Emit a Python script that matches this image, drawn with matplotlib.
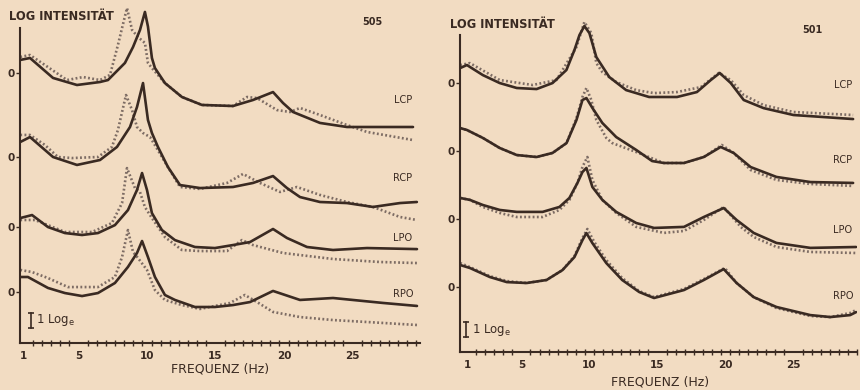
import matplotlib
matplotlib.use('Agg')
import matplotlib.pyplot as plt
import numpy as np

# ----------------------------------------------------------------------
# Daten (Log-Intensität relativ zur jeweiligen Nulllinie, 1 Einheit = 1 Log_e)
# ----------------------------------------------------------------------
CHANNELS = ["LCP", "RCP", "LPO", "RPO"]
TICK_HZ = [1, 5, 10, 15, 20, 25]

# --- Proband 505 ---
F505_LCP_S = [0.75, 1.46, 3.14, 4.89, 6.57, 7.15, 8.39, 8.98, 9.49, 9.85, 10.07, 10.36, 10.58, 11.31,
              12.55, 14.01, 16.28, 17.74, 19.2, 19.93, 20.66, 22.63, 24.6, 29.42]
Y505_LCP_S = [0.87, 1.0, -0.33, -0.8, -0.6, -0.47, 0.67, 1.73, 2.87, 4.07, 3.1, 1.0, 0.33, -0.67,
              -1.6, -2.13, -2.2, -1.8, -1.27, -2.0, -2.6, -3.33, -3.6, -3.6]
F505_LCP_D = [0.75, 1.46, 2.55, 4.16, 5.33, 6.57, 7.3, 7.88, 8.18, 8.54, 8.91, 9.34, 9.85, 10.07,
              10.36, 11.31, 12.55, 14.01, 16.28, 17.3, 18.03, 19.49, 20.44, 21.17, 22.63, 24.6, 26.06, 29.42]
Y505_LCP_D = [1.07, 1.2, 0.53, -0.47, -0.27, -0.47, -0.13, 1.87, 3.0, 4.33, 2.87, 2.4, 2.0, 0.67,
              0.33, -0.67, -1.6, -2.13, -2.2, -1.6, -1.67, -2.47, -2.6, -2.33, -2.8, -3.47, -3.93, -4.47]

F505_RCP_S = [0.75, 1.46, 3.14, 4.89, 6.57, 7.81, 8.76, 9.27, 9.71, 10.07, 10.36, 10.8, 11.53, 12.41,
              13.87, 16.28, 17.74, 19.2, 20.22, 21.17, 22.63, 24.6, 26.5, 28.47, 29.7]
Y505_RCP_S = [1.0, 1.33, 0.0, -0.53, -0.2, 0.67, 2.0, 3.33, 4.93, 2.47, 1.6, 0.67, -0.67, -1.87,
              -2.07, -2.0, -1.73, -1.27, -2.07, -2.67, -3.0, -3.07, -3.33, -3.07, -3.0]
F505_RCP_D = [0.75, 1.46, 2.55, 3.5, 4.53, 6.42, 7.44, 7.88, 8.18, 8.47, 8.91, 9.27, 9.71, 10.22,
              10.44, 11.53, 12.41, 13.87, 15.84, 17.01, 18.25, 19.71, 20.95, 22.63, 24.6, 26.5, 28.47, 29.7]
Y505_RCP_D = [1.47, 1.47, 0.8, 0.0, -0.07, 0.0, 0.67, 1.8, 3.0, 4.13, 3.13, 2.0, 1.6, 1.33,
              1.0, -0.67, -2.0, -2.13, -1.73, -1.13, -1.73, -2.33, -2.0, -2.53, -3.0, -3.33, -4.0, -4.2]

F505_LPO_S = [0.75, 1.61, 2.77, 4.01, 5.26, 6.42, 7.66, 8.61, 9.27, 9.64, 10.0, 10.36, 11.09, 12.04,
              13.5, 14.96, 16.28, 17.52, 19.2, 20.22, 21.68, 23.58, 26.06, 29.71]
Y505_LPO_S = [0.6, 0.8, 0.0, -0.4, -0.53, -0.4, 0.13, 1.13, 2.47, 3.6, 2.47, 0.93, -0.2, -0.87,
              -1.33, -1.4, -1.2, -1.0, -0.13, -0.73, -1.33, -1.53, -1.4, -1.47]
F505_LPO_D = [0.75, 1.82, 2.77, 4.01, 5.99, 7.44, 8.18, 8.54, 8.83, 9.12, 9.49, 9.85, 10.36, 11.31,
              12.55, 13.87, 15.84, 16.93, 17.74, 19.93, 23.58, 27.01, 29.71]
Y505_LPO_D = [0.47, 0.47, 0.13, -0.33, -0.33, 0.27, 1.6, 3.93, 3.27, 2.6, 2.33, 1.33, 0.6, -0.67,
              -1.53, -1.6, -1.6, -0.87, -1.2, -1.73, -2.13, -2.33, -2.4]

F505_RPO_S = [0.75, 1.31, 2.77, 4.01, 5.26, 6.42, 7.66, 8.61, 9.27, 9.64, 10.07, 10.58, 11.31, 12.04,
              13.5, 14.96, 16.28, 17.52, 19.2, 21.17, 23.58, 27.23, 29.71]
Y505_RPO_S = [1.0, 1.0, 0.27, -0.07, -0.27, -0.07, 0.6, 1.67, 2.6, 3.4, 2.33, 1.0, -0.2, -0.53,
              -1.0, -1.0, -0.87, -0.67, 0.07, -0.53, -0.4, -0.73, -0.93]
F505_RPO_D = [0.75, 1.61, 2.77, 4.23, 6.42, 7.66, 8.18, 8.61, 8.98, 9.34, 10.0, 10.58, 11.31, 12.55,
              13.87, 16.06, 17.15, 18.03, 19.2, 21.17, 23.58, 26.06, 29.71]
Y505_RPO_D = [1.47, 1.33, 0.93, 0.33, 0.33, 1.0, 2.33, 4.13, 2.67, 2.27, 1.47, 0.13, -0.53, -0.87,
              -1.13, -0.73, -0.2, -0.67, -1.33, -1.67, -1.87, -2.0, -2.2]

# --- Proband 501 ---
F501_LCP_S = [0.5, 1.0, 2.17, 3.41, 4.66, 6.12, 7.29, 8.31, 8.9, 9.27, 9.63, 10.0, 10.51, 11.46,
              12.7, 14.39, 16.44, 17.9, 18.92, 19.58, 20.39, 21.34, 22.8, 24.99, 29.38]
Y501_LCP_S = [1.0, 1.2, 0.53, 0.0, -0.33, -0.4, 0.0, 0.87, 2.2, 3.2, 3.8, 3.33, 1.73, 0.4,
              -0.47, -0.93, -0.93, -0.6, 0.2, 0.67, 0.0, -1.13, -1.67, -2.13, -2.4]
F501_LCP_D = [0.5, 1.22, 3.41, 5.83, 7.58, 9.05, 9.63, 10.14, 10.51, 10.95, 11.97, 13.44, 14.75,
              16.44, 18.19, 19.51, 20.39, 21.34, 22.8, 24.99, 29.38]
Y501_LCP_D = [1.2, 1.33, 0.2, -0.13, 0.2, 2.4, 4.07, 3.33, 1.33, 0.73, 0.07, -0.47, -0.67,
              -0.6, -0.27, 0.67, 0.2, -0.8, -1.47, -1.93, -2.13]

F501_RCP_S = [0.5, 1.0, 2.17, 3.41, 4.66, 6.12, 7.29, 8.32, 9.05, 9.49, 9.78, 10.22, 10.95, 11.97,
              13.44, 14.61, 15.48, 16.95, 18.41, 19.65, 20.6, 21.85, 23.75, 26.24, 29.38]
Y501_RCP_S = [1.53, 1.4, 0.87, 0.2, -0.27, -0.4, -0.13, 0.53, 2.07, 3.4, 3.53, 2.87, 1.87, 0.93,
              0.07, -0.67, -0.8, -0.8, -0.4, 0.27, -0.13, -1.07, -1.73, -2.07, -2.13]
F501_RCP_D = [0.5, 1.0, 2.17, 3.41, 4.66, 6.12, 7.29, 8.32, 9.05, 9.49, 9.78, 10.14, 10.51, 11.24,
              11.68, 13.44, 15.48, 16.95, 18.41, 19.73, 20.6, 21.85, 23.75, 26.24, 29.38]
Y501_RCP_D = [1.53, 1.4, 0.87, 0.2, -0.27, -0.4, -0.13, 0.53, 2.2, 3.6, 4.2, 3.4, 2.07, 0.87,
              0.53, -0.07, -0.8, -0.8, -0.4, 0.4, -0.13, -1.27, -1.93, -2.2, -2.33]

F501_LPO_S = [0.5, 1.22, 2.17, 3.41, 4.66, 6.56, 7.8, 8.53, 9.12, 9.49, 9.78, 10.22, 10.95, 11.97,
              13.44, 14.75, 16.95, 18.41, 19.87, 20.82, 22.07, 23.75, 26.24, 29.6]
Y501_LPO_S = [1.4, 1.27, 0.93, 0.6, 0.47, 0.47, 0.8, 1.4, 2.4, 3.13, 3.4, 2.13, 1.27, 0.47,
              -0.27, -0.6, -0.53, 0.13, 0.73, -0.07, -0.93, -1.6, -1.93, -1.87]
F501_LPO_D = [0.5, 1.22, 2.17, 3.41, 4.66, 6.56, 7.8, 8.53, 9.12, 9.49, 9.85, 10.22, 10.95, 11.97,
              13.44, 15.48, 16.95, 18.41, 19.87, 21.12, 22.07, 23.75, 26.24, 29.6]
Y501_LPO_D = [1.4, 1.27, 0.8, 0.4, 0.13, 0.13, 0.6, 1.27, 2.4, 3.47, 4.13, 2.6, 1.27, 0.4,
              -0.53, -0.93, -0.8, -0.07, 0.8, -0.53, -1.2, -1.87, -2.2, -2.27]

F501_RPO_S = [0.5, 1.22, 2.68, 3.93, 5.39, 6.85, 8.02, 8.9, 9.49, 9.78, 10.22, 11.24, 12.41, 13.66,
              14.75, 16.95, 18.41, 19.87, 20.82, 22.07, 23.75, 26.24, 27.7, 29.16, 29.6]
Y501_RPO_S = [1.47, 1.27, 0.67, 0.33, 0.27, 0.47, 1.13, 2.0, 3.13, 3.6, 2.93, 1.6, 0.47, -0.33,
              -0.73, -0.2, 0.47, 1.2, 0.27, -0.67, -1.33, -1.87, -2.0, -1.87, -1.67]
F501_RPO_D = [0.5, 1.22, 2.68, 3.93, 5.39, 6.85, 8.02, 8.9, 9.49, 9.85, 10.36, 11.24, 12.41, 13.66,
              14.75, 16.95, 18.41, 19.95, 20.82, 22.07, 23.75, 26.24, 27.7, 29.16, 29.6]
Y501_RPO_D = [1.6, 1.33, 0.73, 0.4, 0.27, 0.47, 1.13, 2.07, 3.27, 3.87, 3.0, 1.8, 0.6, -0.27,
              -0.67, -0.13, 0.53, 1.27, 0.27, -0.67, -1.4, -1.93, -2.0, -1.73, -1.53]

# Nulllinien der gestapelten Kurven
OFFSETS_505 = [18.0, 12.4, 7.73, 3.4]
OFFSETS_501 = [17.93, 13.4, 8.87, 4.33]

CURVES_505 = [(F505_LCP_S, Y505_LCP_S, F505_LCP_D, Y505_LCP_D),
              (F505_RCP_S, Y505_RCP_S, F505_RCP_D, Y505_RCP_D),
              (F505_LPO_S, Y505_LPO_S, F505_LPO_D, Y505_LPO_D),
              (F505_RPO_S, Y505_RPO_S, F505_RPO_D, Y505_RPO_D)]
CURVES_501 = [(F501_LCP_S, Y501_LCP_S, F501_LCP_D, Y501_LCP_D),
              (F501_RCP_S, Y501_RCP_S, F501_RCP_D, Y501_RCP_D),
              (F501_LPO_S, Y501_LPO_S, F501_LPO_D, Y501_LPO_D),
              (F501_RPO_S, Y501_RPO_S, F501_RPO_D, Y501_RPO_D)]

PAPER = '#f2dcc2'
INK = '#3a2a22'
DOT = '#7d6c64'
W, H = 860, 390

fig = plt.figure(figsize=(8.6, 3.9), dpi=100, facecolor=PAPER)


def px_text(x, y, s, **kw):
    fig.text(x / W, 1 - y / H, s, color=INK, family='DejaVu Sans', **kw)


def panel(box, xlim, ylim, spine_top, curves, offsets, label_x, label_ys):
    left, top, right, bottom = box
    ax = fig.add_axes([left / W, 1 - bottom / H, (right - left) / W, bottom / H - top / H])
    ax.set_facecolor('none')
    for (fs, ys, fd, yd), off in zip(curves, offsets):
        ax.plot(fd, np.array(yd) + off, color=DOT, lw=1.9, ls=(0, (0.7, 0.9)), zorder=2)
        ax.plot(fs, np.array(ys) + off, color=INK, lw=1.9, zorder=3,
                solid_capstyle='round', solid_joinstyle='round')
    ax.set_xlim(*xlim)
    ax.set_ylim(*ylim)
    for s in ['top', 'right']:
        ax.spines[s].set_visible(False)
    ax.spines['left'].set_bounds(0, spine_top)
    for s in ['left', 'bottom']:
        ax.spines[s].set_color(INK)
        ax.spines[s].set_linewidth(1.5)
    ax.set_yticks(offsets)
    ax.set_yticklabels(['0'] * 4)
    ax.tick_params(axis='y', length=3, width=1, color=INK, labelsize=7.5, labelcolor=INK, pad=1)
    ax.set_xticks(TICK_HZ)
    ax.set_xticklabels([str(t) for t in TICK_HZ])
    ax.set_xticks(np.arange(1, 30, 2 / 3), minor=True)
    ax.tick_params(axis='x', which='major', length=0, labelsize=7.5, labelcolor=INK, pad=6)
    ax.tick_params(axis='x', which='minor', length=5, width=1, color=INK, direction='inout')
    for lab in ax.get_xticklabels() + ax.get_yticklabels():
        lab.set_fontweight('bold')
    for name, ly in zip(CHANNELS, label_ys):
        px_text(label_x, ly, name, fontsize=7, ha='center', va='center')
    return ax


ax1 = panel((20, 0, 420, 343), (0.73, 29.93), (0, 343 / 15), 21.0,
            CURVES_505, OFFSETS_505, 403, [100, 178, 238, 294])
ax2 = panel((460, 0, 857, 352), (0.49, 29.53), (0, 352 / 15), 21.13,
            CURVES_501, OFFSETS_501, 843, [85, 160, 230, 296])

# Massstab 1 Log_e
for ax, xb in [(ax1, 1.5), (ax2, 0.95)]:
    ax.plot([xb, xb], [1.0, 2.0], color=INK, lw=1.2, marker='_', ms=5, mew=1.2)
px_text(36, 320, r'1 Log$\mathregular{_e}$', fontsize=8.5, va='center')
px_text(472, 330, r'1 Log$\mathregular{_e}$', fontsize=8.5, va='center')

px_text(9, 17, 'LOG INTENSITÄT', fontsize=8.3, fontweight='bold', va='center')
px_text(450, 24, 'LOG INTENSITÄT', fontsize=8.3, fontweight='bold', va='center')
px_text(372, 22, '505', fontsize=7, fontweight='bold', ha='center', va='center')
px_text(812, 30, '501', fontsize=7, fontweight='bold', ha='center', va='center')
px_text(220, 369, 'FREQUENZ (Hz)', fontsize=9, ha='center', va='center')
px_text(660, 382, 'FREQUENZ (Hz)', fontsize=9, ha='center', va='center')

plt.savefig('out.png', dpi=100, facecolor=PAPER)
plt.close()
